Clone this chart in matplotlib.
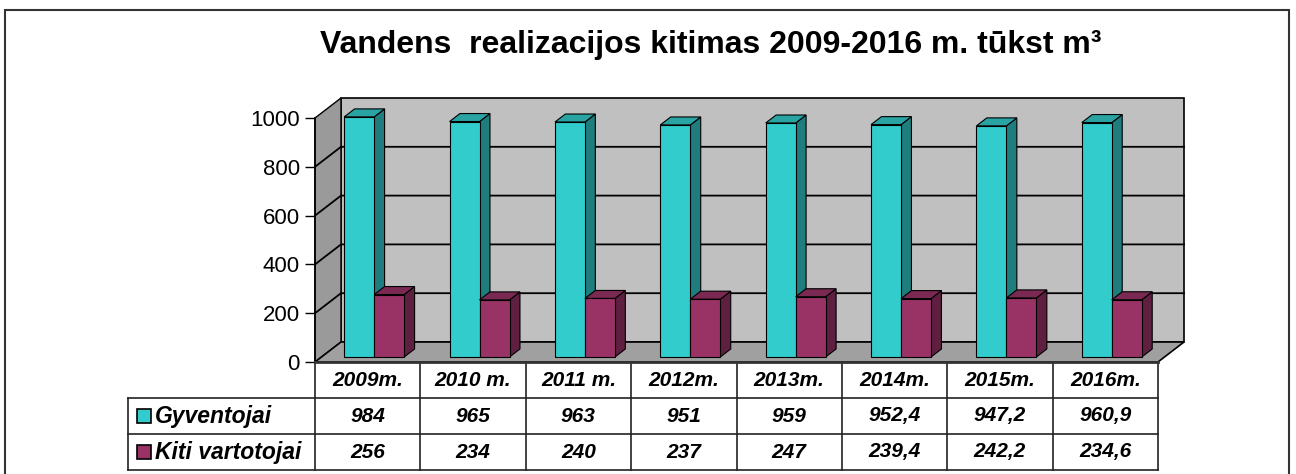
import numpy as np
import matplotlib.pyplot as plt
from matplotlib.patches import Polygon, Rectangle
import matplotlib.transforms as mtransforms

# data
years = ['2009m.', '2010 m.', '2011 m.', '2012m.', '2013m.', '2014m.', '2015m.', '2016m.']
gyventojai = [984, 965, 963, 951, 959, 952.4, 947.2, 960.9]
kiti = [256, 234, 240, 237, 247, 239.4, 242.2, 234.6]
series_names = ['Gyventojai', 'Kiti vartotojai']
yticks = [0, 200, 400, 600, 800, 1000]

plt.rcParams['font.family'] = ['Liberation Sans', 'DejaVu Sans']

W, H = 1296, 474
fig = plt.figure(figsize=(W / 100, H / 100), dpi=100)


def fx(px):
    return px / W


def fy(py):
    return 1 - py / H


# front plane of the pseudo 3d plot
ax = fig.add_axes([fx(315), fy(362), fx(1158) - fx(315), fy(118) - fy(362)])
n = len(years)
ax.set_xlim(0, n)
ax.set_ylim(0, 1000)
ax.patch.set_visible(False)

# depth vector (pixels -> data units)
ddx = 26 / (843 / n)
ddy = 20 / (244 / 1000)


def p(x, y, d):
    return (x + d * ddx, y + d * ddy)


def face(pts, fc, z, ec='black', lw=0.8):
    ax.add_patch(Polygon(pts, closed=True, fc=fc, ec=ec, lw=lw, zorder=z, clip_on=False))


# walls and floor
face([p(0, 0, 1), p(n, 0, 1), p(n, 1000, 1), p(0, 1000, 1)], '#c0c0c0', 0.5, lw=1.2)
face([p(0, 0, 0), p(0, 0, 1), p(0, 1000, 1), p(0, 1000, 0)], '#9a9a9a', 0.6, lw=1.0)
face([p(0, 0, 0), p(n, 0, 0), p(n, 0, 1), p(0, 0, 1)], '#a0a0a0', 0.7, lw=1.2)

# gridlines
for v in yticks[1:-1]:
    a, b, c = p(0, v, 0), p(0, v, 1), p(n, v, 1)
    ax.plot([a[0], b[0], c[0]], [a[1], b[1], c[1]], color='black', lw=1.3,
            zorder=0.8, clip_on=False)

# bars
colors = [('#33cccc', '#2aa3a3', '#1f7d7d'), ('#993366', '#7a2952', '#5e1f40')]
bw = 30 / (843 / n)
d0, d1 = 0.25, 0.65
z = 2
for i in range(n):
    for s, vals in enumerate([gyventojai, kiti]):
        v = vals[i]
        x0 = i + 0.5 - bw + s * bw
        x1 = x0 + bw
        front, top, side = colors[s]
        face([p(x1, 0, d0), p(x1, 0, d1), p(x1, v, d1), p(x1, v, d0)], side, z)
        face([p(x0, v, d0), p(x1, v, d0), p(x1, v, d1), p(x0, v, d1)], top, z)
        face([p(x0, 0, d0), p(x1, 0, d0), p(x1, v, d0), p(x0, v, d0)], front, z)
        z += 0.01

# axes look
ax.set_xticks([])
ax.set_yticks(yticks)
ax.tick_params(axis='y', length=7, width=1, pad=4, labelsize=16)
ax.spines['top'].set_visible(False)
ax.spines['right'].set_visible(False)
ax.spines['left'].set_linewidth(1.2)
ax.spines['bottom'].set_linewidth(2)
ax.spines['bottom'].set_color('#333333')

# data table
tr = mtransforms.blended_transform_factory(ax.transData, fig.transFigure)
row_y = [fy(362), fy(398), fy(434), fy(470)]
lc = '#222222'
for i in range(n + 1):
    ax.plot([i, i], [row_y[0], row_y[3]], color=lc, lw=1.2, transform=tr, clip_on=False)
for yy in row_y[1:]:
    fig.add_artist(plt.Line2D([fx(128), fx(1158)], [yy, yy], color=lc, lw=1.2))
fig.add_artist(plt.Line2D([fx(128), fx(128)], [row_y[1], row_y[3]], color=lc, lw=1.2))

tfont = dict(fontsize=15, fontweight='bold', fontstyle='italic', ha='center', va='center')
for i, yl in enumerate(years):
    ax.text(i + 0.5, (row_y[0] + row_y[1]) / 2, yl, transform=tr, **tfont)


def fmt(v):
    return ('%g' % v).replace('.', ',')


for r, vals in enumerate([gyventojai, kiti]):
    yc = (row_y[r + 1] + row_y[r + 2]) / 2
    for i, v in enumerate(vals):
        ax.text(i + 0.5, yc, fmt(v), transform=tr, **tfont)
    fig.add_artist(Rectangle((fx(137), yc - 7 / H), 14 / W, 14 / H, transform=fig.transFigure,
                             fc=colors[r][0], ec='black', lw=1.2))
    fig.text(fx(155), yc, series_names[r], fontsize=16.5, fontweight='bold',
             fontstyle='italic', ha='left', va='center')

# title
fig.text(fx(711), fy(45), 'Vandens  realizacijos kitimas 2009-2016 m. tūkst m³',
         ha='center', va='center', fontsize=23, fontweight='bold')

# outer frame
fig.add_artist(Rectangle((fx(5), -0.1), fx(1289) - fx(5), fy(10) + 0.1,
                         transform=fig.transFigure, fill=False, ec='#333333', lw=1.5))

fig.savefig('out.png', dpi=100)
